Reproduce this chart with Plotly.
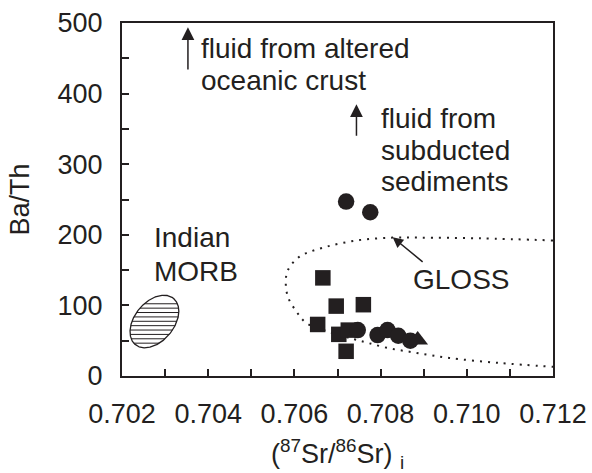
import numpy as np
import plotly.graph_objects as go

INK = "#231f20"
FONT = "Arial, Liberation Sans, sans-serif"

# ---- samples ----
circle_x = [0.70720, 0.70776, 0.70747, 0.70793, 0.70816, 0.70841, 0.70869]
circle_y = [247, 232, 65, 58, 65, 57, 50]
square_x = [0.70666, 0.70697, 0.70760, 0.70654, 0.70703, 0.70725, 0.70720]
square_y = [139, 99, 101, 73, 59, 65, 35]
triangle_x = [0.70886]
triangle_y = [51]

# ---- GLOSS mixing curve ----
gloss_x = [0.71200, 0.71030, 0.70890, 0.70828, 0.70751, 0.70674, 0.70612,
           0.70585, 0.70580, 0.70585, 0.70605, 0.70628, 0.70681, 0.70739,
           0.70774, 0.70820, 0.70867, 0.70913, 0.70959, 0.71075, 0.71200]
gloss_y = [192, 195, 196, 196, 192.5, 183, 169, 150, 134, 112, 91, 75,
           62.5, 52, 46.3, 39.2, 34.4, 29.7, 25.5, 18.5, 13]

# ---- Indian MORB field (ellipse: centre and two conjugate half-axes) ----
morb_center = (0.702752, 77.2)
morb_axis_a = (0.000446, 32.6)
morb_axis_b = (0.000349, -18.0)
morb_hatch_levels = [46.5, 52.7, 58.9, 65.1, 71.3, 77.5, 83.7, 89.9, 96.1, 102.3]

# ---- arrows: (tail x, tail y, head x, head y) ----
arrow_crust = (0.70353, 432, 0.70353, 494)
arrow_sediment = (0.70744, 338, 0.70744, 385)
arrow_gloss = (0.70901, 160, 0.70828, 196.5)

# ---- axes ----
x_tickvals = [0.702, 0.704, 0.706, 0.708, 0.710, 0.712]
x_ticktext = ["0.702", "0.704", "0.706", "0.708", "0.710", "0.712"]
y_tickvals = [0, 100, 200, 300, 400, 500]
y_ticktext = ["0", "100", "200", "300", "400", "500"]

t = np.linspace(0, 2 * np.pi, 721)
ell_x = morb_center[0] + morb_axis_a[0] * np.cos(t) + morb_axis_b[0] * np.sin(t)
ell_y = morb_center[1] + morb_axis_a[1] * np.cos(t) + morb_axis_b[1] * np.sin(t)

# horizontal hatching clipped to the ellipse outline
hx, hy = [], []
for lvl in morb_hatch_levels:
    xs = []
    for i in range(len(t) - 1):
        y0, y1 = ell_y[i], ell_y[i + 1]
        if (y0 - lvl) * (y1 - lvl) <= 0 and y0 != y1:
            f = (lvl - y0) / (y1 - y0)
            xs.append(ell_x[i] + f * (ell_x[i + 1] - ell_x[i]))
    if len(xs) >= 2:
        hx += [min(xs), max(xs), None]
        hy += [lvl, lvl, None]

fig = go.Figure()

fig.add_trace(go.Scatter(x=hx, y=hy, mode="lines",
                         line=dict(color=INK, width=1), hoverinfo="skip"))
fig.add_trace(go.Scatter(x=ell_x, y=ell_y, mode="lines",
                         line=dict(color=INK, width=1.3), hoverinfo="skip"))

fig.add_trace(go.Scatter(x=gloss_x, y=gloss_y, mode="lines",
                         line=dict(color=INK, width=2, dash="2px,6px",
                                   shape="spline", smoothing=1.0),
                         hoverinfo="skip"))

fig.add_trace(go.Scatter(x=square_x, y=square_y, mode="markers",
                         marker=dict(symbol="square", size=15.5, color=INK)))
fig.add_trace(go.Scatter(x=circle_x, y=circle_y, mode="markers",
                         marker=dict(symbol="circle", size=16.5, color=INK)))
fig.add_trace(go.Scatter(x=triangle_x, y=triangle_y, mode="markers",
                         marker=dict(symbol="triangle-up", size=18, color=INK)))


def label(x, y, text, size=28):
    return dict(x=x, y=y, xref="x", yref="y", text=text, showarrow=False,
                xanchor="left", yanchor="middle",
                font=dict(family=FONT, size=size, color=INK))


def arrow(seg, size=1.7):
    x0, y0, x1, y1 = seg
    return dict(x=x1, y=y1, ax=x0, ay=y0, xref="x", yref="y", axref="x", ayref="y",
                text="", showarrow=True, arrowhead=2, arrowsize=size,
                arrowwidth=1.5, arrowcolor=INK, standoff=0, startstandoff=0)


annotations = [
    arrow(arrow_crust),
    label(0.70378, 464, "fluid from altered"),
    label(0.70378, 419, "oceanic crust"),
    arrow(arrow_sediment),
    label(0.70797, 365, "fluid from"),
    label(0.70797, 320, "subducted"),
    label(0.70797, 276, "sediments"),
    arrow(arrow_gloss, size=1.4),
    label(0.70871, 136, "GLOSS"),
    label(0.70269, 195.5, "Indian"),
    label(0.70269, 148, "MORB"),
]

fig.update_layout(
    width=592, height=473,
    margin=dict(l=122, r=39, t=23, b=97),
    plot_bgcolor="white", paper_bgcolor="white",
    showlegend=False,
    font=dict(family=FONT, size=27, color=INK),
    annotations=annotations,
)

tick_style = dict(ticks="inside", ticklen=7, tickwidth=1.5, tickcolor=INK)

fig.update_xaxes(
    range=[0.702, 0.712], tickmode="array",
    tickvals=x_tickvals, ticktext=x_ticktext, **tick_style,
    minor=dict(dtick=0.001, tick0=0.702, showgrid=False, **tick_style),
    showline=True, linewidth=2, linecolor=INK, mirror=True,
    showgrid=False, zeroline=False, ticklabelstandoff=13, automargin=False,
    tickfont=dict(family=FONT, size=27, color=INK),
    title=dict(text="(<sup>87</sup>Sr/<sup>86</sup>Sr) <sub>i</sub>",
               font=dict(family=FONT, size=27, color=INK), standoff=20),
)
fig.update_yaxes(
    range=[0, 500], tickmode="array",
    tickvals=y_tickvals, ticktext=y_ticktext, **tick_style,
    minor=dict(dtick=50, tick0=0, showgrid=False, **tick_style),
    showline=True, linewidth=2, linecolor=INK, mirror=True,
    showgrid=False, zeroline=False, ticklabelstandoff=12, automargin=False,
    tickfont=dict(family=FONT, size=27, color=INK),
    title=dict(text="Ba/Th", font=dict(family=FONT, size=27, color=INK), standoff=20),
)

fig.write_html("out.html")
